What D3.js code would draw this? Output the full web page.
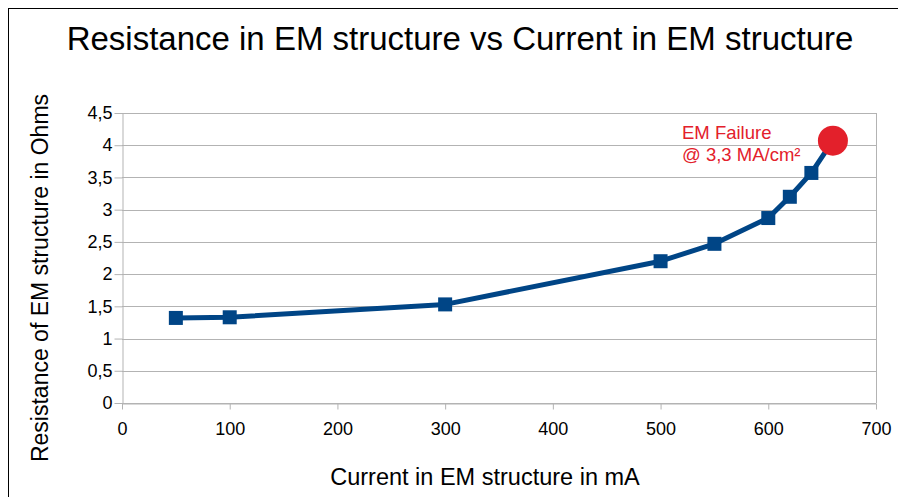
<!DOCTYPE html>
<html>
<head>
<meta charset="utf-8">
<script src="https://cdn.jsdelivr.net/npm/d3@7"></script>
<style>
  body { margin: 0; background: #fff; }
  text { font-family: "Liberation Sans", Arial, sans-serif; }
</style>
</head>
<body>
<svg class="main-graphic"></svg>
<script>
var currents = [50, 100, 300, 500, 550, 600, 620, 640, 660];
var resistances = [1.32, 1.33, 1.53, 2.20, 2.47, 2.87, 3.20, 3.57, 4.07];
var xTicks = [0, 100, 200, 300, 400, 500, 600, 700];
var yTicks = [0, 0.5, 1, 1.5, 2, 2.5, 3, 3.5, 4, 4.5];
var failurePoint = [660, 4.07];
var failureLabel = ["EM Failure", "@ 3,3 MA/cm²"];

var width = 898, height = 497;
var margin = {top: 113, right: 22, bottom: 94, left: 122};
var blue = "#004586", red = "#e3202b", grid = "#b3b3b3";

var svg = d3.select(".main-graphic")
    .attr("width", width)
    .attr("height", height);

// outer frame (only left and top visible)
svg.append("rect")
    .attr("x", 8.5).attr("y", 8.5)
    .attr("width", width + 10).attr("height", height + 10)
    .attr("fill", "#fff")
    .attr("stroke", "#000");

var x = d3.scaleLinear().domain([0, 700]).range([margin.left, width - margin.right]);
var y = d3.scaleLinear().domain([0, 4.5]).range([height - margin.bottom, margin.top]);

var comma = function(d) { return String(d).replace(".", ","); };

// horizontal grid
svg.append("g").selectAll("line")
    .data(yTicks)
  .enter().append("line")
    .attr("x1", x(0)).attr("x2", x(700))
    .attr("y1", function(d) { return Math.round(y(d)) + 0.5; })
    .attr("y2", function(d) { return Math.round(y(d)) + 0.5; })
    .attr("stroke", grid);

// right edge of plot
svg.append("line")
    .attr("x1", Math.round(x(700)) + 0.5).attr("x2", Math.round(x(700)) + 0.5)
    .attr("y1", y(4.5)).attr("y2", y(0))
    .attr("stroke", grid);

var xAxis = svg.append("g")
    .attr("transform", "translate(0," + (Math.round(y(0)) + 0.5) + ")")
    .call(d3.axisBottom(x).tickValues(xTicks).tickSize(6).tickSizeOuter(0).tickFormat(comma));

var yAxis = svg.append("g")
    .attr("transform", "translate(" + (Math.round(x(0)) + 0.5) + ",0)")
    .call(d3.axisLeft(y).tickValues(yTicks).tickSize(8).tickSizeOuter(0).tickFormat(comma));

[xAxis, yAxis].forEach(function(a) {
  a.select(".domain").attr("stroke", grid);
  a.selectAll(".tick line").attr("stroke", grid);
  a.selectAll(".tick text")
      .attr("fill", "#000")
      .style("font-size", "18px")
      .style("font-family", "'Liberation Sans', Arial, sans-serif");
});
xAxis.selectAll(".tick text").attr("dy", "1.25em");
yAxis.selectAll(".tick text").attr("x", -10);

// series line
var line = d3.line()
    .x(function(d, i) { return x(currents[i]); })
    .y(function(d) { return y(d); });

svg.append("path")
    .datum(resistances)
    .attr("d", line)
    .attr("fill", "none")
    .attr("stroke", blue)
    .attr("stroke-width", 5)
    .attr("stroke-linejoin", "round");

svg.append("g").selectAll("rect")
    .data(resistances.slice(0, -1))
  .enter().append("rect")
    .attr("x", function(d, i) { return x(currents[i]) - 7; })
    .attr("y", function(d) { return y(d) - 7; })
    .attr("width", 14)
    .attr("height", 14)
    .attr("fill", blue);

svg.append("circle")
    .attr("cx", x(failurePoint[0]))
    .attr("cy", y(failurePoint[1]))
    .attr("r", 15)
    .attr("fill", red);

svg.append("text")
    .attr("x", 682)
    .attr("y", 139)
    .attr("fill", red)
    .style("font-size", "18.5px")
  .selectAll("tspan")
    .data(failureLabel)
  .enter().append("tspan")
    .attr("x", 682)
    .attr("dy", function(d, i) { return i ? 22 : 0; })
    .text(function(d) { return d; });

// titles
svg.append("text")
    .attr("x", 460).attr("y", 50)
    .attr("text-anchor", "middle")
    .style("font-size", "33px")
    .text("Resistance in EM structure vs Current in EM structure");

svg.append("text")
    .attr("x", 485).attr("y", 485)
    .attr("text-anchor", "middle")
    .style("font-size", "23.5px")
    .text("Current in EM structure in mA");

svg.append("text")
    .attr("transform", "translate(48,278) rotate(-90)")
    .attr("text-anchor", "middle")
    .style("font-size", "23px")
    .text("Resistance of EM structure in Ohms");
</script>
</body>
</html>
